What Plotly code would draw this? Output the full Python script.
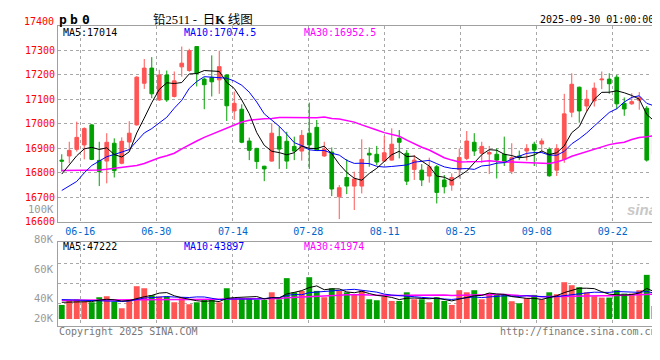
import plotly.graph_objects as go

# ---------------- data ----------------
dates = ["06-11", "06-12", "06-13", "06-16", "06-17", "06-18", "06-19", "06-20", "06-23", "06-24",
         "06-25", "06-26", "06-27", "06-30", "07-01", "07-02", "07-03", "07-04", "07-07", "07-08",
         "07-09", "07-10", "07-11", "07-14", "07-15", "07-16", "07-17", "07-18", "07-21", "07-22",
         "07-23", "07-24", "07-25", "07-28", "07-29", "07-30", "07-31", "08-01", "08-04", "08-05",
         "08-06", "08-07", "08-08", "08-11", "08-12", "08-13", "08-14", "08-15", "08-18", "08-19",
         "08-20", "08-21", "08-22", "08-25", "08-26", "08-27", "08-28", "08-29", "09-01", "09-02",
         "09-03", "09-04", "09-05", "09-08", "09-09", "09-10", "09-11", "09-12", "09-15", "09-16",
         "09-17", "09-18", "09-19", "09-22", "09-23", "09-24", "09-25", "09-26", "09-29", "09-30"]

open_ = [16852, 16869, 16896, 16914, 16996, 16851, 16848, 16921, 16839, 16926,
         16996, 17166, 17228, 17098, 17200, 17112, 17233, 17218, 17316, 17183,
         17190, 17180, 17200, 17053, 17060, 16930, 16900, 16827, 16848, 16948,
         16929, 16908, 16889, 16962, 16986, 16869, 16885, 16702, 16781, 16746,
         16746, 16880, 16876, 16848, 16852, 16941, 16880, 16814, 16811, 16787,
         16825, 16771, 16750, 16814, 16859, 16925, 16880, 16877, 16876, 16876,
         16807, 16869, 16889, 16917, 16918, 16896, 16811, 16855, 17048, 17150,
         17073, 17094, 17180, 17183, 17191, 17084, 17082, 17097, 17064, 16876]
high = [16876, 16927, 17009, 16986, 17000, 16927, 16962, 16941, 16945, 17011,
        17195, 17265, 17273, 17221, 17218, 17214, 17316, 17307, 17316, 17190,
        17280, 17299, 17202, 17132, 17080, 16944, 16902, 16829, 17003, 16989,
        16968, 16948, 16975, 17087, 17016, 16927, 16904, 16750, 16856, 16805,
        16937, 16904, 16910, 16951, 16982, 16975, 16893, 16873, 16836, 16862,
        16832, 16791, 16798, 16900, 16971, 16962, 16927, 16910, 16900, 16948,
        16921, 16891, 16917, 16927, 16941, 16904, 16917, 17123, 17207, 17152,
        17139, 17169, 17214, 17207, 17200, 17108, 17125, 17130, 17073, 16982]
low = [16805, 16839, 16887, 16855, 16852, 16746, 16757, 16781, 16835, 16890,
       16993, 17143, 17105, 17094, 17090, 17108, 17193, 17213, 17153, 17060,
       17112, 17123, 17012, 17016, 16921, 16852, 16816, 16766, 16846, 16816,
       16816, 16852, 16850, 16816, 16890, 16866, 16705, 16611, 16713, 16648,
       16716, 16825, 16832, 16846, 16850, 16859, 16750, 16771, 16746, 16760,
       16675, 16716, 16727, 16777, 16852, 16869, 16841, 16795, 16777, 16828,
       16795, 16852, 16850, 16828, 16882, 16784, 16787, 16841, 17027, 17005,
       17050, 17071, 17142, 17123, 17060, 17033, 17078, 17058, 16846, 16869]
close = [16848, 16892, 16945, 16981, 16855, 16805, 16925, 16809, 16929, 16962,
         17191, 17228, 17123, 17200, 17098, 17176, 17248, 17299, 17207, 17160,
         17172, 17234, 17074, 17084, 16925, 16892, 16846, 16816, 16962, 16897,
         16848, 16889, 16953, 16914, 16893, 16896, 16734, 16739, 16746, 16775,
         16855, 16873, 16844, 16882, 16917, 16925, 16766, 16852, 16771, 16825,
         16720, 16743, 16781, 16863, 16930, 16889, 16908, 16883, 16852, 16848,
         16862, 16863, 16900, 16893, 16930, 16788, 16900, 17041, 17162, 17053,
         17101, 17146, 17183, 17164, 17082, 17061, 17091, 17107, 16852, 16948]
volume = [24200, 32900, 34000, 30000, 28800, 37500, 39200, 30000, 18500, 34000,
          56500, 53000, 41000, 38600, 38600, 28800, 35800, 25400, 28800, 32900,
          34000, 28800, 53000, 35800, 35800, 35800, 32900, 32900, 46000, 34000,
          70400, 46000, 48400, 72000, 48400, 37500, 53000, 48400, 46000, 41500,
          49600, 34000, 32300, 38600, 31100, 31100, 46000, 34000, 34000, 28800,
          37500, 31100, 24200, 49600, 46000, 49600, 34000, 44400, 41500, 42700,
          30600, 27100, 35800, 41500, 34000, 46000, 42700, 63400, 58200, 54800,
          46000, 39200, 36900, 36900, 49600, 43800, 43800, 49600, 76100, 22500]

# moving-average values for the first days (history before the window)
ma5_head = [16795, 16835, 16870, 16898]
ma10_head = [16728, 16745, 16765, 16800, 16830, 16848, 16866, 16875, 16884]
ma30_head = [16810, 16810, 16810, 16809, 16809, 16812, 16815, 16818, 16821, 16826,
             16830, 16838, 16850, 16862, 16870, 16880, 16898, 16915, 16930, 16945,
             16958, 16972, 16984, 16998, 17008, 17015, 17019, 17021, 17022]
vma5_head = [28800, 29000, 29200, 29300]
vma10_head = [33400, 33000, 32500, 31800, 31200, 30800, 30500, 30300, 30200]
vma30_head = [32300, 32300, 32400, 32400, 32500, 32500, 32600, 32700, 32800, 32900,
              33000, 33000, 33100, 33200, 33300, 33400, 33500, 33700, 33800, 34000,
              34000, 34100, 34200, 34400, 34600, 34800, 35000, 35100, 35200]

tick_labels = ["06-16", "06-30", "07-14", "07-28", "08-11", "08-25", "09-08", "09-22"]
price_ticks = [16600, 16700, 16800, 16900, 17000, 17100, 17200, 17300]
price_tick_labels = ["16600", "16700", "16800", "16900", "17000", "17100", "17200", "17300"]
vol_labels = ["100K", "80K", "60K", "40K", "20K"]

legend_price = ["MA5:17014", "MA10:17074.5", "MA30:16952.5"]
legend_vol = ["MA5:47222", "MA10:43897", "MA30:41974"]


def moving_avg(vals, n, head):
    out = []
    for i in range(len(vals)):
        if i < n - 1:
            out.append(head[i])
        else:
            out.append(sum(vals[i - n + 1:i + 1]) / n)
    return out


ma5 = moving_avg(close, 5, ma5_head)
ma10 = moving_avg(close, 10, ma10_head)
ma30 = moving_avg(close, 30, ma30_head)
vma5 = moving_avg(volume, 5, vma5_head)
vma10 = moving_avg(volume, 10, vma10_head)
vma30 = moving_avg(volume, 30, vma30_head)

# ---------------- style ----------------
RED = "#ff5454"
GREEN = "#00a000"
MONO = "DejaVu Sans Mono"
GRID = "#a8a8a8"
BORDER = "#a0a0a0"

x = list(range(len(dates)))
n = len(dates)
grid_pos = [2.47, 12.61, 22.83, 32.87, 43.06, 53.19, 63.33, 73.46]

fig = go.Figure()

fig.add_trace(go.Candlestick(
    x=x, open=open_, high=high, low=low, close=close,
    increasing=dict(line=dict(color=RED, width=1), fillcolor=RED),
    decreasing=dict(line=dict(color=GREEN, width=1), fillcolor=GREEN),
    xaxis="x", yaxis="y", showlegend=False, hoverinfo="skip"))

for vals, col, w in [(ma30, "#ff00ff", 1.5), (ma10, "#0000ff", 1), (ma5, "#000000", 1)]:
    fig.add_trace(go.Scatter(x=x, y=vals, mode="lines", line=dict(color=col, width=w),
                             xaxis="x", yaxis="y", showlegend=False, hoverinfo="skip"))

bar_colors = [RED if c >= o else GREEN for o, c in zip(open_, close)]
fig.add_trace(go.Bar(x=x, y=volume, marker=dict(color=bar_colors, line=dict(width=0)),
                     xaxis="x2", yaxis="y2", showlegend=False, hoverinfo="skip"))

for vals, col, w in [(vma30, "#ff00ff", 1.5), (vma10, "#0000ff", 1), (vma5, "#000000", 1)]:
    fig.add_trace(go.Scatter(x=x, y=vals, mode="lines", line=dict(color=col, width=w),
                             xaxis="x2", yaxis="y2", showlegend=False, hoverinfo="skip"))

# pixel helpers (plot area spans x 50..650, y 18..318)
L, R, T, B = 50, 650, 18, 318


def px(v):
    return (v - L) / (R - L)


def py(v):
    return (B - v) / (B - T)


axis_common = dict(showline=True, mirror=True, linecolor=BORDER, linewidth=1,
                   zeroline=False, gridcolor=GRID, griddash="dot", gridwidth=1, ticks="")

fig.update_layout(
    width=660, height=360,
    margin=dict(l=L, r=660 - R, t=T, b=360 - B, autoexpand=False),
    paper_bgcolor="white", plot_bgcolor="white",
    bargap=0.22,
    xaxis=dict(domain=[0, 1], anchor="y", range=[-0.5, n - 0.5],
               tickmode="array", tickvals=grid_pos, ticktext=tick_labels,
               tickfont=dict(family=MONO, size=10, color="#0066cc"),
               rangeslider=dict(visible=False), showgrid=True, **axis_common),
    yaxis=dict(domain=[py(213.8), 1], anchor="x", range=[16600, 17400],
               tickmode="array", tickvals=price_ticks, ticktext=price_tick_labels,
               tickfont=dict(family=MONO, size=10, color="#ff0000"),
               showgrid=True, **axis_common),
    xaxis2=dict(domain=[0, 1], anchor="y2", range=[-0.5, n - 0.5],
                tickmode="array", tickvals=grid_pos, showticklabels=False,
                showgrid=True, **axis_common),
    yaxis2=dict(domain=[0, py(234.3)], anchor="x2", range=[-12100, 132200],
                tickmode="array", tickvals=[27200, 61800, 96400], showticklabels=False,
                showgrid=True, **axis_common),
)

ann = []


def add_text(text, xp, yp, anchor="left", color="#000", size=10, family=MONO, bold=False):
    ann.append(dict(text=("<b>%s</b>" % text) if bold else text, xref="paper", yref="paper",
                    x=px(xp), y=py(yp), xanchor=anchor, yanchor="middle", showarrow=False,
                    font=dict(family=family, size=size, color=color), borderpad=0))


# header
for ch, xc in zip(["p", "b", "0"], [55, 65.5, 77.5]):
    add_text(ch, xc, 11.5, anchor="center", size=13, bold=True)
add_text('铅<span style="font-family:Liberation Serif">2511</span> -  日<b><span style="font-family:Liberation Serif">K</span></b> 线图',
         195, 10, anchor="center", size=12.5, family="Noto Sans CJK SC")
add_text("2025-09-30 01:00:00", 647, 11.5, anchor="right", size=10)
add_text("17400", 47, 13.5, anchor="right", color="#ff0000", size=10)

# legends
for txt, xs, col in zip(legend_price, [54, 175, 295], ["#000000", "#0000ff", "#ff00ff"]):
    add_text(txt, xs, 25, color=col)
for txt, xs, col in zip(legend_vol, [54, 175, 295], ["#000000", "#0000ff", "#ff00ff"]):
    add_text(txt, xs, 238.5, color=col)

# volume axis labels
for txt, yl in zip(vol_labels, [200.7, 231, 260.7, 290, 310]):
    add_text(txt, 47, yl, anchor="right", color="#999999", size=10.5)

# footer
add_text("Copyright 2025 SINA.COM", 50, 323.5, color="#777777")
add_text("http://finance.sina.com.cn", 650, 323.5, anchor="right", color="#777777")

# watermark
add_text("<i>sina</i>", 634, 201, anchor="center", color="#c8c8c8", size=15,
         family="Liberation Sans", bold=True)

fig.update_layout(annotations=ann)

fig.write_html("out.html")
